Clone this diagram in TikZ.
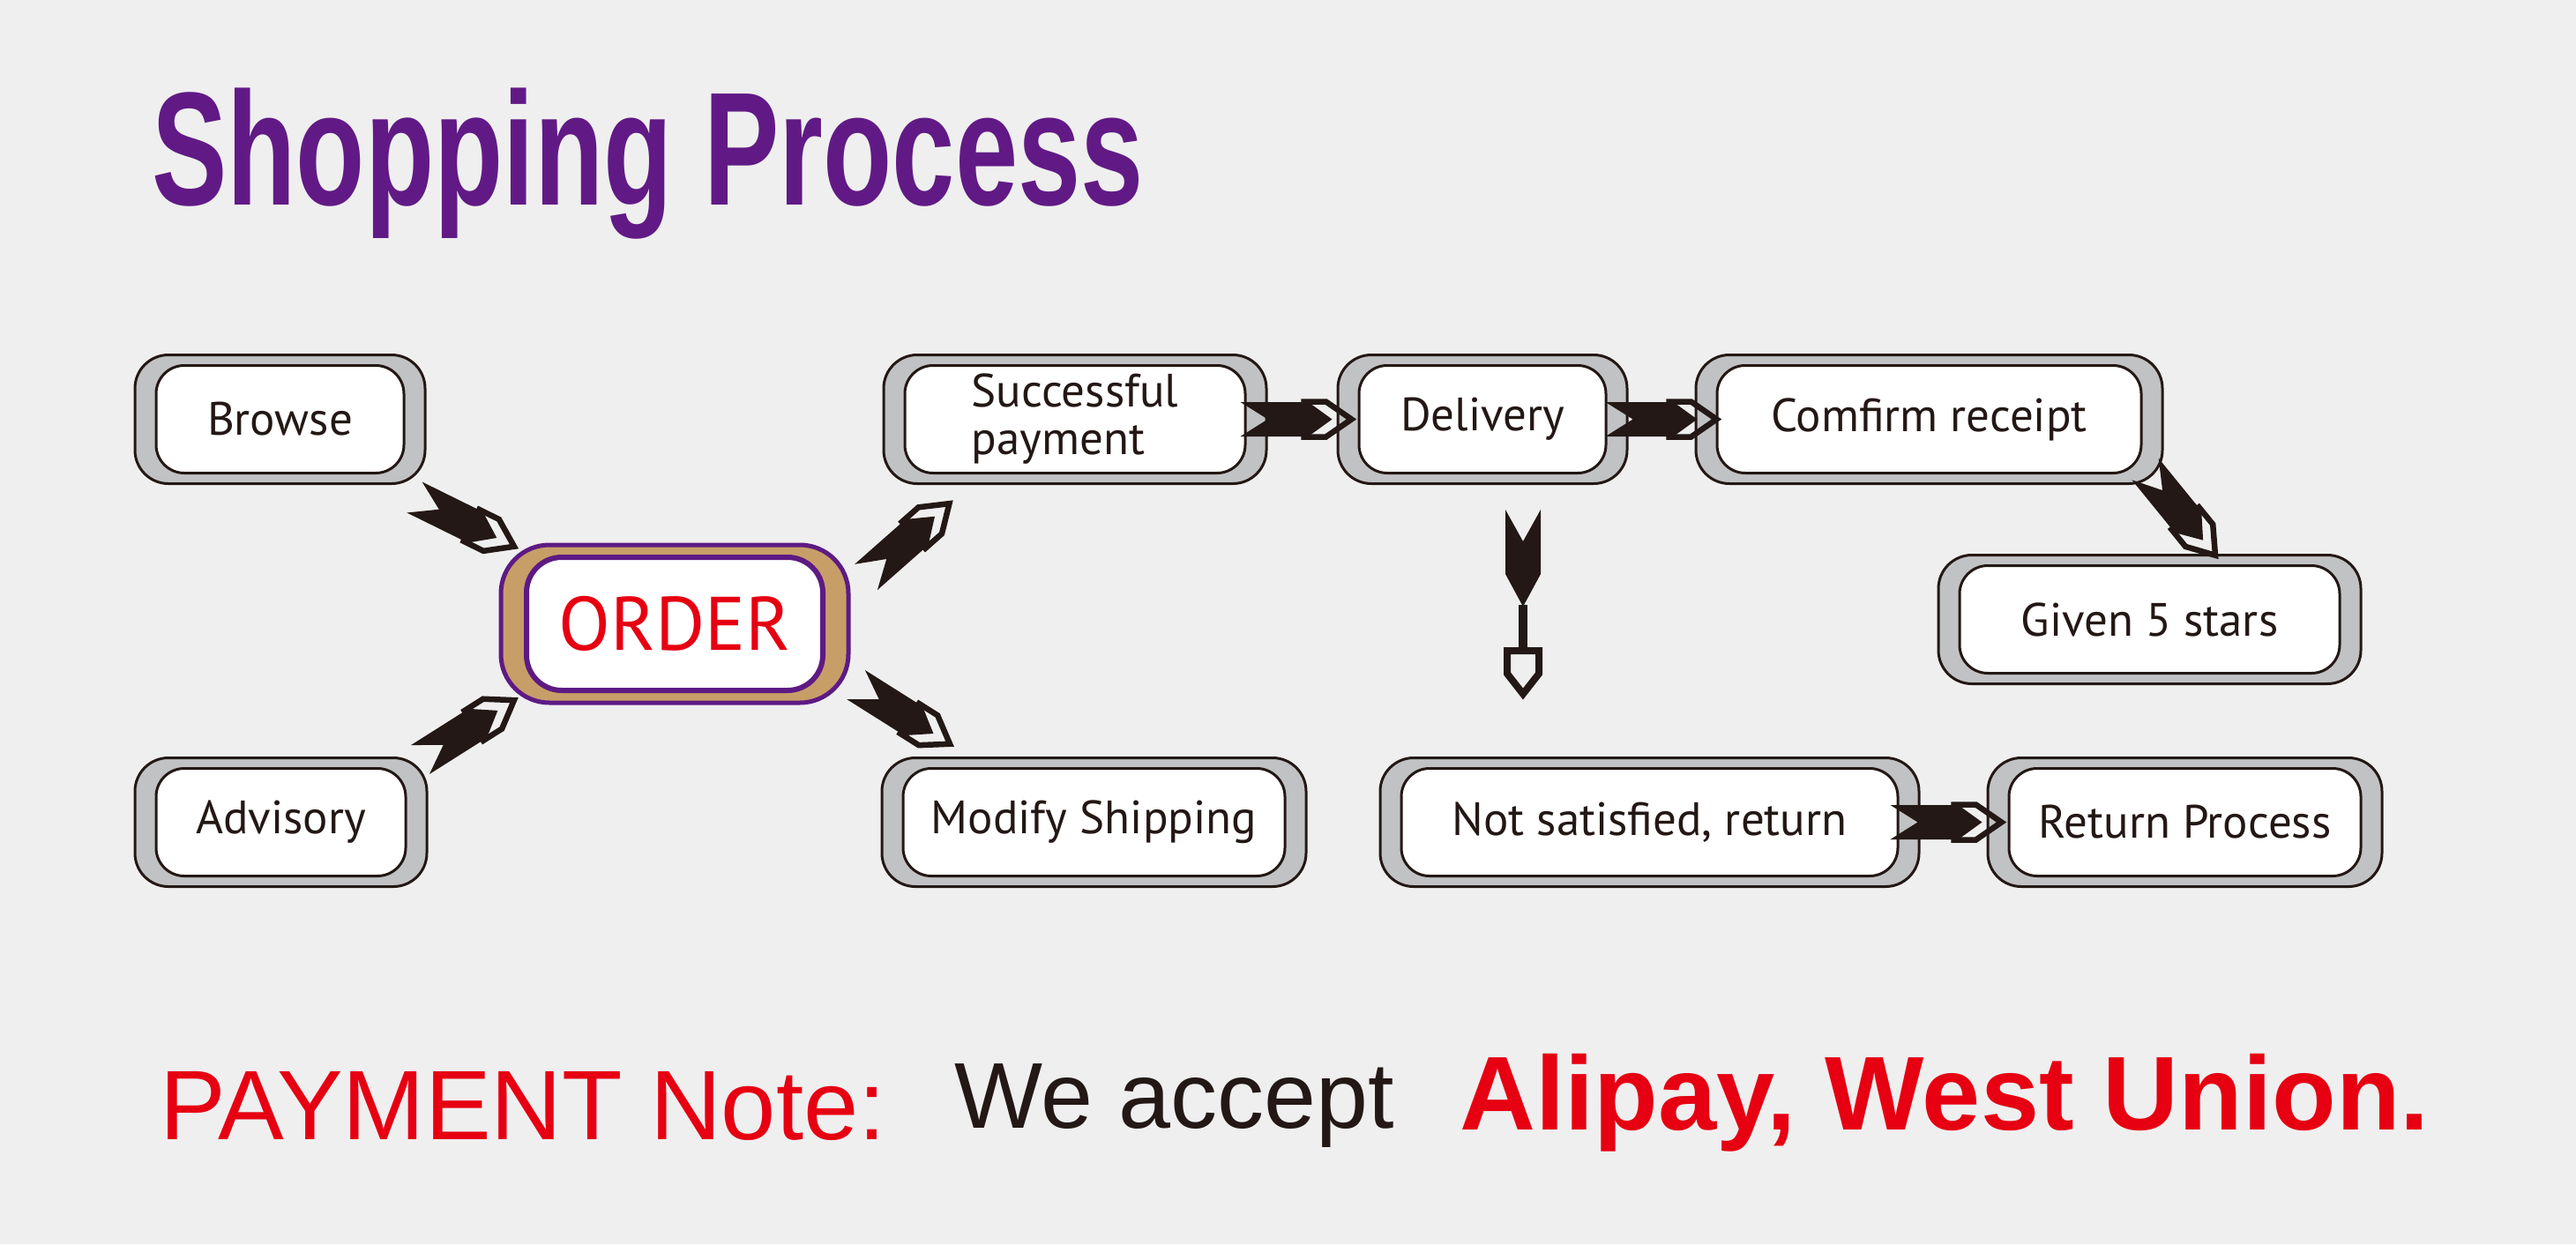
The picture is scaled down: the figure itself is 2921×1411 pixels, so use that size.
\documentclass[tikz,border=0pt]{standalone}
\usepackage{fontspec}
\setmainfont{PT Sans}
\newfontfamily\arialfont{Liberation Sans}
\usepackage{graphicx}
\usepackage{tikz}
\usetikzlibrary{positioning,fit,calc}
\definecolor{paper}{HTML}{EFEFEF}
\definecolor{shellgray}{HTML}{C1C2C4}
\definecolor{ink}{HTML}{231815}
\definecolor{titlepurple}{HTML}{611A85}
\definecolor{orderpurple}{HTML}{5E1A84}
\definecolor{ordertan}{HTML}{C89E68}
\definecolor{notered}{HTML}{E60012}
\pgfdeclarelayer{paperlayer}
\pgfdeclarelayer{shelllayer}
\pgfsetlayers{paperlayer,shelllayer,main}
\tikzstyle{stepbox} = [draw=ink, fill=white, line width=3pt, rounded corners=32pt,
    minimum height=122pt, text=ink, font=\fontsize{53}{54}\selectfont, inner sep=0pt]
\tikzstyle{shell} = [draw=ink, fill=shellgray, line width=3pt, rounded corners=38pt,
    inner xsep=22.5pt, inner ysep=10.5pt]
\tikzstyle{orderbox} = [draw=orderpurple, fill=white, line width=6pt, rounded corners=40pt,
    minimum width=336pt, minimum height=151pt, text=notered,
    font=\fontsize{86}{86}\selectfont, inner sep=0pt]
\tikzstyle{ordershell} = [draw=orderpurple, fill=ordertan, line width=5pt,
    rounded corners=55pt, inner xsep=26pt, inner ysep=11pt]
\tikzset{
  fatarrow/.pic={
    \draw[ink, line width=6.5pt] (72,-20) -- (97,-20) -- (126,0) -- (97,20) -- (72,20) -- cycle;
    \fill[ink] (0,19.5) -- (31,0) -- (0,-19.5) -- (77,-19.5) -- (104,0) -- (77,19.5) -- cycle;
  },
  dropmark/.pic={
    \fill[ink] (-20,0) -- (0,36) -- (20,0) -- (20,73) -- (0,110) -- (-20,73) -- cycle;
    \fill[ink] (-5,108) rectangle (5,157);
    \draw[ink, line width=8pt] (-18,160) -- (18,160) -- (18,186) -- (0,209) -- (-18,186) -- cycle;
  }
}
% fat arrow from a tail point towards a tip point
\newcommand\fatlink[2]{\path let \p1=(#1), \p2=(#2), \n1={atan2(\y2-\y1,\x2-\x1)} in
  (\p1) pic[rotate=\n1] {fatarrow};}

\begin{document}
\begin{tikzpicture}[x=1pt, y=-1pt]
  \useasboundingbox (0,0) rectangle (2921,1411);
  \begin{pgfonlayer}{paperlayer}
    \fill[paper] (0,0) rectangle (2921,1411);
  \end{pgfonlayer}

  \node [anchor=base west, inner sep=0pt, text=titlepurple] (title) at (172,232)
  {\scalebox{0.70}[1]{\arialfont\bfseries\fontsize{183}{183}\selectfont Shopping Process}};

  % steps
  \node [stepbox, minimum width=281pt] (browse) at (317.5,475.5) {Browse};
  \node [stepbox, minimum width=283pt, below of=browse, node distance=457pt, xshift=1pt] (adv) {Advisory};
  \node [orderbox] (order) at (765,707.5) {ORDER};
  \node [stepbox, minimum width=386pt, right of=browse, node distance=901.5pt, align=left] (pay)
  {Successful\\payment};
  \node [stepbox, minimum width=280pt, right of=pay, node distance=462pt] (deliv) {Delivery};
  \node [stepbox, minimum width=481pt, right of=deliv, node distance=506.5pt] (confirm) {Comfirm receipt};
  \node [stepbox, minimum width=431pt, below of=confirm, node distance=227pt, xshift=250pt] (stars)
  {Given 5 stars};
  \node [stepbox, minimum width=433pt, below of=pay, node distance=457pt, xshift=21.5pt] (modify)
  {Modify Shipping};
  \node [stepbox, minimum width=563pt, right of=modify, node distance=630pt] (notsat)
  {Not satisfied, return};
  \node [stepbox, minimum width=399pt, right of=notsat, node distance=607pt] (retp) {Return Process};

  \begin{pgfonlayer}{shelllayer}
    \node [shell, fit=(browse)] (browse-o) {};
    \node [shell, fit=(adv)] (adv-o) {};
    \node [ordershell, fit=(order)] (order-o) {};
    \node [shell, fit=(pay)] (pay-o) {};
    \node [shell, fit=(deliv)] (deliv-o) {};
    \node [shell, fit=(confirm)] (confirm-o) {};
    \node [shell, fit=(stars)] (stars-o) {};
    \node [shell, fit=(modify)] (modify-o) {};
    \node [shell, fit=(notsat)] (notsat-o) {};
    \node [shell, fit=(retp)] (retp-o) {};
  \end{pgfonlayer}

  % arrows
  \fatlink{$(browse-o.south east)+(-13.5,14)$}{$(order-o.north west)+(19,5)$}
  \fatlink{$(adv-o.north east)+(-9,3.5)$}{$(order-o.south west)+(20,-7)$}
  \fatlink{$(order-o.north east)+(17.5,39)$}{$(pay-o.south west)+(75,22)$}
  \fatlink{$(order-o.south east)+(6,-23)$}{$(modify-o.north west)+(79,-14)$}
  \fatlink{$(pay-o.east)+(-31,0)$}{$(deliv-o.west)+(20,0)$}
  \fatlink{$(deliv-o.east)+(-26,0)$}{$(confirm-o.west)+(27,0)$}
  \fatlink{$(confirm-o.south east)+(-21,-18)$}{$(stars-o.north)+(75.5,3)$}
  \fatlink{$(notsat-o.east)+(-34,0)$}{$(retp-o.west)+(21,0)$}
  \pic at ($(deliv-o.south)+(46,28)$) {dropmark};

  % payment note
  \node [anchor=base west, inner sep=0pt, text=notered] (note) at (181,1292)
  {\arialfont\fontsize{112}{112}\selectfont PAYMENT Note:};
  \node [anchor=base west, inner sep=0pt, text=ink] (accept) at (1082,1279)
  {\arialfont\fontsize{106}{106}\selectfont We accept};
  \node [anchor=base west, inner sep=0pt, text=notered] (ways) at (1655,1281)
  {\arialfont\bfseries\fontsize{119}{119}\selectfont Alipay, West Union.};
\end{tikzpicture}
\end{document}
